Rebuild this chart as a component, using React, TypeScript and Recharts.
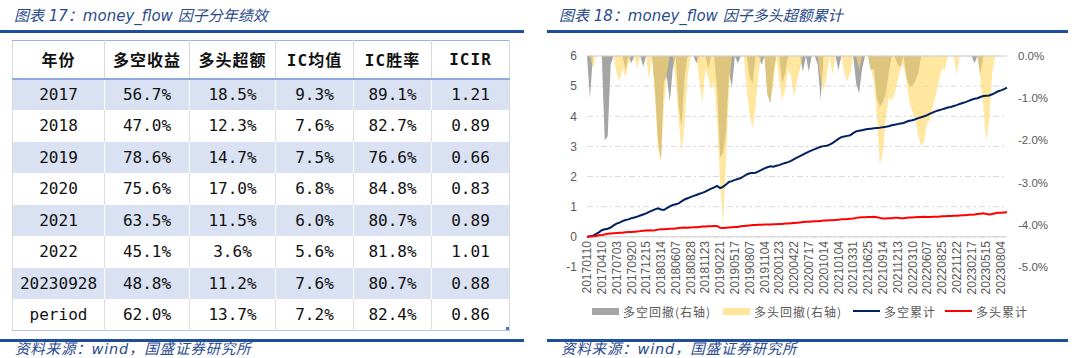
import React from 'react';
import { ComposedChart, Area, Line, XAxis, YAxis, CartesianGrid, ReferenceLine } from 'recharts';

// ---- table (图表 17) ----
const headers = ['年份', '多空收益', '多头超额', 'IC均值', 'IC胜率', 'ICIR'];
const years = ['2017', '2018', '2019', '2020', '2021', '2022', '20230928', 'period'];
const longShortRet = ['56.7%', '47.0%', '78.6%', '75.6%', '63.5%', '45.1%', '48.8%', '62.0%'];
const longExcess = ['18.5%', '12.3%', '14.7%', '17.0%', '11.5%', '3.6%', '11.2%', '13.7%'];
const icMean = ['9.3%', '7.6%', '7.5%', '6.8%', '6.0%', '5.6%', '7.6%', '7.2%'];
const icWin = ['89.1%', '82.7%', '76.6%', '84.8%', '80.7%', '81.8%', '80.7%', '82.4%'];
const icir = ['1.21', '0.89', '0.66', '0.83', '0.89', '1.01', '0.88', '0.86'];

// ---- chart (图表 18) ----
const tickLabels = [
  '20170110', '20170410', '20170703', '20170920', '20171215', '20180314', '20180607', '20180828',
  '20181123', '20190221', '20190517', '20190807', '20191104', '20200123', '20200422', '20200717',
  '20201014', '20210104', '20210331', '20210625', '20210914', '20211213', '20220310', '20220607',
  '20220825', '20221122', '20230217', '20230515', '20230804',
];

// 多空累计
const longShortCum = [
  0, 0.02, 0.04, 0.09, 0.15, 0.22, 0.25, 0.27, 0.31, 0.38,
  0.44, 0.47, 0.52, 0.56, 0.58, 0.62, 0.64, 0.67, 0.71, 0.74,
  0.78, 0.83, 0.87, 0.91, 0.95, 0.91, 0.89, 0.95, 1.01, 1.06,
  1.08, 1.11, 1.18, 1.24, 1.28, 1.32, 1.36, 1.39, 1.43, 1.46,
  1.5, 1.55, 1.6, 1.64, 1.69, 1.62, 1.66, 1.74, 1.82, 1.85,
  1.89, 1.92, 1.95, 2.01, 2.07, 2.11, 2.12, 2.13, 2.17, 2.22,
  2.27, 2.31, 2.34, 2.33, 2.36, 2.38, 2.42, 2.45, 2.48, 2.52,
  2.58, 2.63, 2.68, 2.73, 2.78, 2.83, 2.87, 2.91, 2.95, 2.99,
  3.01, 3.02, 3.06, 3.11, 3.18, 3.25, 3.31, 3.33, 3.35, 3.37,
  3.44, 3.5, 3.52, 3.54, 3.56, 3.58, 3.59, 3.6, 3.61, 3.62,
  3.64, 3.65, 3.67, 3.7, 3.72, 3.74, 3.76, 3.78, 3.82, 3.85,
  3.87, 3.9, 3.94, 3.97, 4.0, 4.04, 4.09, 4.13, 4.17, 4.2,
  4.23, 4.26, 4.29, 4.31, 4.34, 4.37, 4.41, 4.44, 4.47, 4.51,
  4.55, 4.58, 4.6, 4.64, 4.67, 4.68, 4.69, 4.73, 4.78, 4.83,
  4.86, 4.9, 4.95,
];

// 多头累计
const longCum = [
  0, 0.01, 0.02, 0.03, 0.05, 0.06, 0.08, 0.1, 0.11, 0.12,
  0.13, 0.14, 0.14, 0.15, 0.16, 0.16, 0.17, 0.18, 0.19, 0.2,
  0.21, 0.22, 0.21, 0.22, 0.24, 0.25, 0.25, 0.26, 0.27, 0.27,
  0.28, 0.29, 0.3, 0.31, 0.3, 0.31, 0.32, 0.32, 0.33, 0.34,
  0.34, 0.35, 0.35, 0.36, 0.36, 0.3, 0.29, 0.3, 0.31, 0.32,
  0.33, 0.33, 0.35, 0.36, 0.37, 0.38, 0.39, 0.39, 0.4, 0.4,
  0.41, 0.41, 0.41, 0.42, 0.42, 0.43, 0.43, 0.44, 0.44, 0.45,
  0.46, 0.47, 0.48, 0.49, 0.5, 0.5, 0.51, 0.52, 0.52, 0.53,
  0.54, 0.54, 0.55, 0.55, 0.56, 0.57, 0.58, 0.58, 0.59, 0.6,
  0.61, 0.63, 0.64, 0.65, 0.65, 0.66, 0.66, 0.67, 0.65, 0.63,
  0.61, 0.61, 0.62, 0.62, 0.63, 0.63, 0.62, 0.62, 0.63, 0.64,
  0.64, 0.65, 0.66, 0.66, 0.67, 0.66, 0.66, 0.67, 0.67, 0.67,
  0.68, 0.68, 0.69, 0.69, 0.7, 0.7, 0.71, 0.72, 0.72, 0.73,
  0.73, 0.74, 0.76, 0.77, 0.78, 0.76, 0.74, 0.76, 0.78, 0.8,
  0.8, 0.81, 0.82,
];

// 多空回撤(右轴), in %
const longShortDD = [
  0, -1.0, 0, 0, 0, 0, -2.0, -1.9, -0.2, 0,
  0, 0, 0, -0.33, 0, -0.17, 0, 0, 0, -0.25,
  0, 0, 0, -0.8, -2.0, -2.47, -0.6, -0.5, -1.08, -0.3,
  0, -1.2, -1.68, -0.5, 0, 0, 0, -0.17, 0, 0,
  0, -0.3, 0, 0, -0.8, -2.4, -2.3, -1.8, -0.4, -0.73,
  0, -0.17, 0, 0, 0, -0.5, -0.65, 0, 0, -0.2,
  0, -0.9, -1.12, -0.4, 0, 0, -0.65, -0.4, 0, 0,
  0, 0, 0, -0.37, 0, -0.37, 0, 0, -0.2, -1.04,
  0, 0, 0, 0, 0, -0.33, 0, 0, 0, 0,
  0, -0.65, -0.89, -0.3, 0, 0, -0.33, -0.3, -1.0, -1.2,
  -1.1, -0.9, -0.4, 0, 0, -0.2, -0.25, 0, -0.5, -0.73,
  -0.7, -0.6, -0.4, 0, 0, 0, 0, 0, 0, 0,
  0, 0, 0, 0, 0, 0, 0, 0, 0, 0,
  0, -0.17, 0, -0.45, 0, 0, 0, 0, 0, 0,
  0, 0, 0,
];

// 多头回撤(右轴), in %
const longDD = [
  0, 0, -0.3, 0, 0, 0, 0, 0, 0, 0,
  -0.4, -0.6, -0.3, -0.5, -0.2, 0, 0, -0.3, 0, 0,
  0, -0.57, 0, -1.0, -2.2, -2.5, -1.2, -0.4, 0, 0,
  -0.6, -1.5, -2.3, -1.6, -0.5, 0, 0, 0, -0.6, -1.12,
  -0.3, -0.5, -0.8, -0.6, -1.5, -3.0, -4.0, -2.5, -0.8, 0,
  0, 0, 0, 0, -0.8, -1.4, -1.72, -1.2, -0.4, 0,
  0, -0.9, -1.08, -0.7, 0, -0.6, -1.04, -0.8, -0.3, -0.5,
  -0.96, -0.6, -0.3, 0, 0, 0, 0, 0, 0, -0.6,
  -0.8, -0.5, 0, -0.45, 0, 0, 0, -0.4, -0.6, -0.4,
  0, 0, -0.33, 0, 0, 0, -0.3, -0.6, -1.4, -2.6,
  -2.3, -1.5, -1.0, -1.04, -0.9, -0.6, -0.3, -0.2, -0.6, -1.1,
  -1.3, -1.5, -1.9, -2.15, -2.0, -1.6, -1.5, -1.2, -0.9, -0.6,
  -0.3, -0.33, 0, 0, 0, -0.45, 0, 0, 0, 0,
  0, 0, 0, -0.5, -1.2, -2.0, -1.5, -0.4, 0, 0,
  0, 0, 0,
];

const leftTicks = [-1, 0, 1, 2, 3, 4, 5, 6];
const rightTicks = [-5, -4, -3, -2, -1, 0];
const xTicks = tickLabels.map((_, i) => i * 5);

const chartData = longShortCum.map((v, i) => ({
  idx: i,
  ls: v,
  lo: longCum[i],
  lsDD: longShortDD[i],
  loDD: longDD[i],
}));

const navy = '#002060';
const red = '#FF0000';
const grayFill = '#A5A5A5';
const yellowFill = '#FFD966';
const titleBlue = '#2A4A8C';
const ruleBlue = '#1F4E9C';
const axisGray = '#595959';

// Excel puts the date labels right under the 0 line, not under the -1 gridline
const LIFT = 26;

const DateTick = (props: any) => {
  const { x, y, payload } = props;
  const ty = y - LIFT;
  return (
    <text
      x={x}
      y={ty}
      transform={`rotate(-90, ${x}, ${ty})`}
      textAnchor="end"
      dy="0.35em"
      fontSize={12}
      fontFamily="'Liberation Sans', Arial, sans-serif"
      fill={axisGray}
    >
      {tickLabels[Math.round(payload.value / 5)]}
    </text>
  );
};

const titleStyle: React.CSSProperties = {
  position: 'absolute',
  top: 4,
  fontSize: 15,
  fontStyle: 'italic',
  color: titleBlue,
  fontFamily: "'DejaVu Sans', 'Noto Sans CJK SC', sans-serif",
  whiteSpace: 'nowrap',
};

const sourceStyle: React.CSSProperties = {
  position: 'absolute',
  top: 342,
  fontSize: 14.5,
  lineHeight: '15px',
  fontStyle: 'italic',
  color: titleBlue,
  fontFamily: "'DejaVu Sans', 'Noto Sans CJK SC', sans-serif",
  whiteSpace: 'nowrap',
  letterSpacing: 0.8,
};

const colWidths = [92, 85, 86, 78, 78, 78];

const Table = () => {
  const rows = years.map((y, i) => [y, longShortRet[i], longExcess[i], icMean[i], icWin[i], icir[i]]);
  const font = "'DejaVu Sans Mono', 'Noto Sans CJK SC', monospace";
  return (
    <table
      style={{
        position: 'absolute',
        left: 12,
        top: 40,
        width: 497,
        borderCollapse: 'collapse',
        tableLayout: 'fixed',
        fontFamily: font,
        borderTop: '1px solid #9DB3DD',
        borderLeft: '1px solid #D9D9D9',
        borderRight: '1px solid #D9D9D9',
        borderBottom: '1px solid #B4C4E4',
      }}
    >
      <colgroup>
        {colWidths.map((w, i) => (
          <col key={i} style={{ width: w }} />
        ))}
      </colgroup>
      <tbody>
        <tr style={{ height: 38, borderBottom: '2px solid #8EA9DB' }}>
          {headers.map((h, i) => (
            <td
              key={i}
              style={{
                textAlign: 'center',
                fontWeight: 700,
                fontSize: 16,
                letterSpacing: 1,
                color: '#111',
                padding: 0,
                borderRight: i < 5 ? '1px solid #D9D9D9' : 'none',
              }}
            >
              {h}
            </td>
          ))}
        </tr>
        {rows.map((r, ri) => {
          const shaded = ri % 2 === 0;
          return (
            <tr key={ri} style={{ height: 31.5, background: shaded ? '#D9E1F2' : '#FFFFFF' }}>
              {r.map((c, ci) => (
                <td
                  key={ci}
                  style={{
                    textAlign: 'center',
                    fontSize: 16,
                    color: '#111',
                    padding: 0,
                    borderRight: ci < 5 ? `1.5px solid ${shaded ? '#FFFFFF' : '#DDDDDD'}` : 'none',
                  }}
                >
                  {c}
                </td>
              ))}
            </tr>
          );
        })}
      </tbody>
    </table>
  );
};

const legendItems = [
  { label: '多空回撤(右轴)', kind: 'box', color: grayFill, x: 592 },
  { label: '多头回撤(右轴)', kind: 'box', color: '#FFE699', x: 723 },
  { label: '多空累计', kind: 'line', color: navy, x: 853 },
  { label: '多头累计', kind: 'line', color: red, x: 945 },
];

const App = () => {
  return (
    <div
      style={{
        position: 'absolute',
        left: 0,
        top: 0,
        width: 1080,
        height: 358,
        background: '#fff',
        overflow: 'hidden',
      }}
    >
      {/* left panel */}
      <div style={{ ...titleStyle, left: 14 }}>图表 17：money_flow 因子分年绩效</div>
      <div style={{ position: 'absolute', left: 0, top: 30, width: 524, height: 3, background: ruleBlue }} />
      <Table />
      <div style={{ position: 'absolute', left: 506, top: 327, width: 3, height: 3, background: '#4472C4' }} />
      <div style={{ position: 'absolute', left: 0, top: 339, width: 524, height: 2.5, background: ruleBlue }} />
      <div style={{ ...sourceStyle, left: 15 }}>资料来源：wind，国盛证券研究所</div>

      {/* right panel */}
      <div style={{ ...titleStyle, left: 559 }}>图表 18：money_flow 因子多头超额累计</div>
      <div style={{ position: 'absolute', left: 547, top: 30, width: 521, height: 3, background: ruleBlue }} />

      <div style={{ position: 'absolute', left: 540, top: 40 }}>
        <ComposedChart width={520} height={280} data={chartData} margin={{ top: 16, right: 0, bottom: 0, left: 0 }}>
          <CartesianGrid yAxisId="left" vertical={false} stroke="#D9D9D9" strokeDasharray="6 3 2 3" />
          <XAxis
            dataKey="idx"
            type="number"
            domain={[0, chartData.length - 1]}
            ticks={xTicks}
            interval={0}
            tick={<DateTick />}
            tickLine={false}
            axisLine={false}
            tickSize={0}
            tickMargin={0}
            height={53}
          />
          <YAxis
            yAxisId="left"
            domain={[-1, 6]}
            ticks={leftTicks}
            width={47}
            axisLine={false}
            tickLine={false}
            tickMargin={4}
            tick={{ fill: axisGray, fontSize: 12, fontFamily: "'Liberation Sans', Arial, sans-serif" }}
          />
          <YAxis
            yAxisId="right"
            orientation="right"
            domain={[-5, 0]}
            ticks={rightTicks}
            width={53}
            axisLine={false}
            tickLine={false}
            tickMargin={5}
            tickFormatter={(v: number) => `${v.toFixed(1)}%`}
            tick={{ fill: axisGray, fontSize: 11.5, fontFamily: "'Liberation Sans', Arial, sans-serif" }}
          />
          <ReferenceLine yAxisId="left" y={6} stroke="#D0D0D0" />
          <ReferenceLine yAxisId="left" y={0} stroke="#D0D0D0" />
          <Area
            yAxisId="right"
            type="linear"
            dataKey="lsDD"
            name="多空回撤(右轴)"
            stroke="none"
            fill={grayFill}
            fillOpacity={1}
            isAnimationActive={false}
          />
          <Area
            yAxisId="right"
            type="linear"
            dataKey="loDD"
            name="多头回撤(右轴)"
            stroke="none"
            fill={yellowFill}
            fillOpacity={0.62}
            isAnimationActive={false}
          />
          <Line
            yAxisId="left"
            type="linear"
            dataKey="ls"
            name="多空累计"
            stroke={navy}
            strokeWidth={2}
            dot={false}
            isAnimationActive={false}
          />
          <Line
            yAxisId="left"
            type="linear"
            dataKey="lo"
            name="多头累计"
            stroke={red}
            strokeWidth={2}
            dot={false}
            isAnimationActive={false}
          />
        </ComposedChart>
      </div>

      {/* legend */}
      {legendItems.map((it, i) => (
        <div key={i} style={{ position: 'absolute', left: it.x, top: 302, height: 18, display: 'flex', alignItems: 'center' }}>
          <div
            style={{
              width: 27,
              height: it.kind === 'box' ? 7 : 2,
              background: it.color,
              marginRight: 4,
            }}
          />
          <span
            style={{
              fontSize: 12,
              letterSpacing: 1,
              color: axisGray,
              fontFamily: "'Noto Sans CJK SC', sans-serif",
            }}
          >
            {it.label}
          </span>
        </div>
      ))}

      <div style={{ position: 'absolute', left: 547, top: 339, width: 521, height: 2.5, background: ruleBlue }} />
      <div style={{ ...sourceStyle, left: 561 }}>资料来源：wind，国盛证券研究所</div>
    </div>
  );
};

export default App;
